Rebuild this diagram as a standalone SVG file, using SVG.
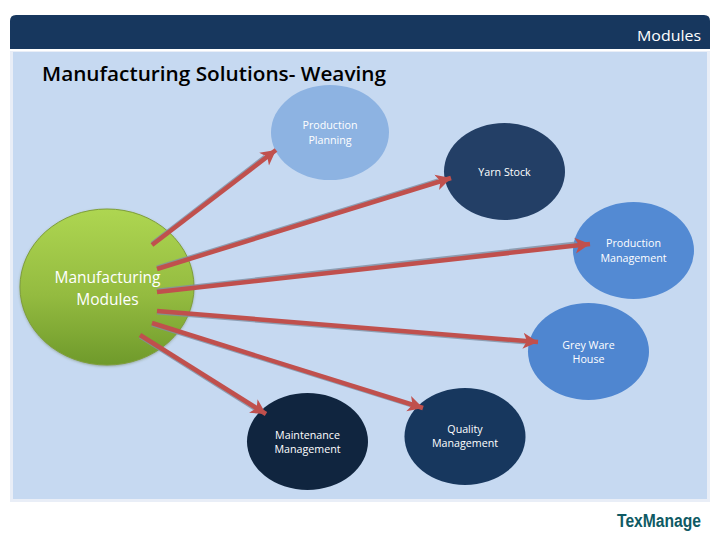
<svg xmlns="http://www.w3.org/2000/svg" width="720" height="540" viewBox="0 0 720 540">
<style>
.n{font-family:"Open Sans","Noto Sans",sans-serif;font-size:10.700px;fill:#fff;text-anchor:middle}
.c{fill:none;stroke:#c0504d;stroke-width:4.500;marker-end:url(#a)}
.s{fill:none;stroke:#7f8ea3;stroke-width:4;opacity:.8}
</style>
<defs>
<marker id="a" markerUnits="userSpaceOnUse" markerWidth="22" markerHeight="22" refX="15" refY="11" orient="auto"><path d="M0 3L15 11L0 19L4 11Z" fill="#c0504d"/></marker>
<linearGradient id="g" x1="0" y1="0" x2="0" y2="1"><stop offset="0" stop-color="#aed651"/><stop offset=".55" stop-color="#94bb40"/><stop offset="1" stop-color="#6f9a2b"/></linearGradient>
<filter id="b" x="-10%" y="-10%" width="120%" height="120%"><feGaussianBlur stdDeviation="1.5"/></filter>
</defs>
<rect width="720" height="540" fill="#fff"/>
<path id="header" d="M16 15H704Q710 15 710 21V49H10V21Q10 15 16 15Z" fill="#17375e"/>
<rect x="10" y="51" width="700" height="451" fill="#e9eef7"/>
<rect x="13" y="52" width="694" height="447" fill="#c6d9f1"/>
<text x="701" y="41" font-family="'Open Sans','Noto Sans',sans-serif" font-size="15" font-weight="500" fill="#fff" text-anchor="end" textLength="64" lengthAdjust="spacingAndGlyphs">Modules</text>
<text x="42" y="81" font-family="'Open Sans','Noto Sans',sans-serif" font-size="20.500" font-weight="600" fill="#000" textLength="344" lengthAdjust="spacingAndGlyphs">Manufacturing Solutions- Weaving</text>
<g id="node-manufacturing">
<ellipse cx="107" cy="288" rx="87" ry="78" fill="#4f6228" opacity=".5" filter="url(#b)"/>
<ellipse cx="107" cy="287" rx="87" ry="78" fill="url(#g)" stroke="#7f9f3a"/>
<text x="107.500" y="283" font-family="'Open Sans','Noto Sans',sans-serif" font-size="15.500" fill="#fff" text-anchor="middle">Manufacturing</text>
<text x="107.500" y="305" font-family="'Open Sans','Noto Sans',sans-serif" font-size="15.500" fill="#fff" text-anchor="middle">Modules</text>
</g>
<g id="node-planning"><ellipse cx="330" cy="132.500" rx="59" ry="47.500" fill="#8db3e2"/><text class="n" x="330" y="129">Production</text><text class="n" x="330" y="144">Planning</text></g>
<g id="node-yarn"><ellipse cx="504.500" cy="171.500" rx="60.500" ry="48.500" fill="#233f66"/><text class="n" x="504.500" y="176">Yarn Stock</text></g>
<g id="node-production"><ellipse cx="633.500" cy="250.500" rx="60.500" ry="48.500" fill="#538ad3"/><text class="n" x="633.500" y="247">Production</text><text class="n" x="633.500" y="262">Management</text></g>
<g id="node-grey"><ellipse cx="588.500" cy="351.500" rx="60.500" ry="48.500" fill="#4f86d0"/><text class="n" x="588.500" y="349">Grey Ware</text><text class="n" x="588.500" y="363">House</text></g>
<g id="node-maintenance"><ellipse cx="307.500" cy="441.500" rx="60.500" ry="48.500" fill="#10253f"/><text class="n" x="307.500" y="439">Maintenance</text><text class="n" x="307.500" y="453">Management</text></g>
<g id="node-quality"><ellipse cx="465" cy="436.500" rx="60.500" ry="48.500" fill="#17375e"/><text class="n" x="465" y="433">Quality</text><text class="n" x="465" y="447">Management</text></g>
<g id="connectors">
<path class="s" d="M152 243.500L265 156.500M157 267.500L438 180.500M157 290.500L576 243.500M157 312.500L526 342.500M152 324.500L412 405.500M140 336.500L256 409.500"/>
<path class="c" d="M152 245L276 150"/>
<path class="c" d="M157 269L451 178"/>
<path class="c" d="M157 292L590 244"/>
<path class="c" d="M157 311L538 342"/>
<path class="c" d="M152 323L423 408"/>
<path class="c" d="M140 335L266 414"/>
</g>
<text x="701" y="527" font-family="'Liberation Sans',sans-serif" font-size="18" font-weight="700" fill="#0f5a64" text-anchor="end" textLength="84" lengthAdjust="spacingAndGlyphs">TexManage</text>
</svg>
